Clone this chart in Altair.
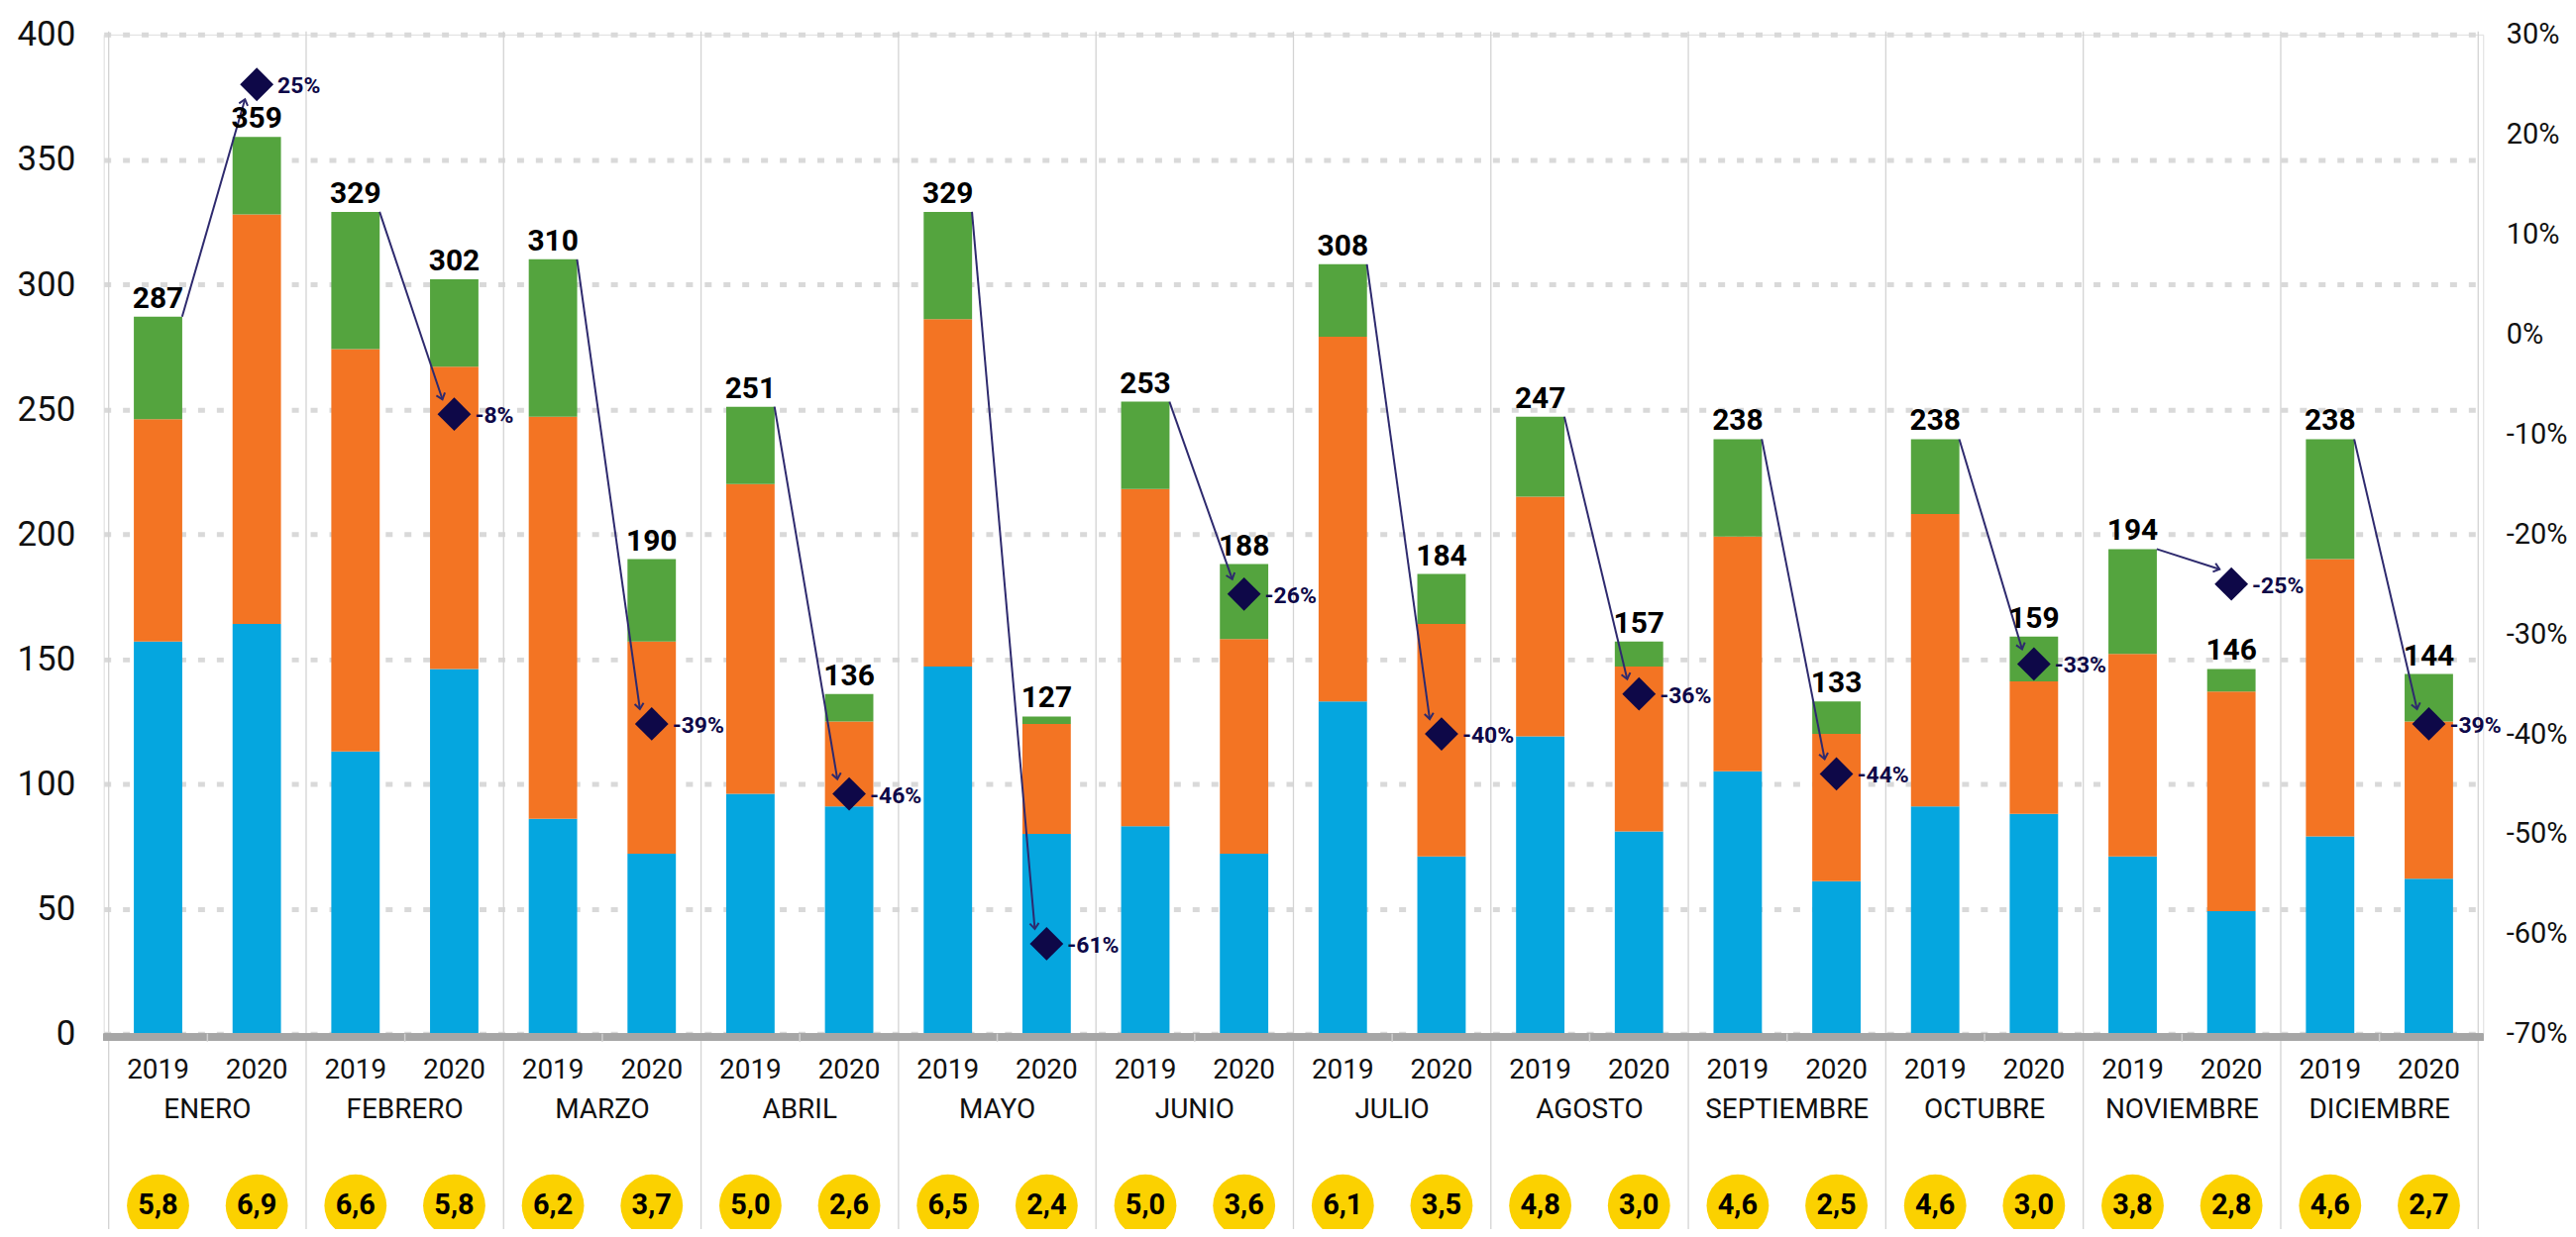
import math
import altair as alt
import pandas as pd

# ---------------- data ----------------
months = ["ENERO", "FEBRERO", "MARZO", "ABRIL", "MAYO", "JUNIO", "JULIO",
          "AGOSTO", "SEPTIEMBRE", "OCTUBRE", "NOVIEMBRE", "DICIEMBRE"]
years = ["2019", "2020"]

blue_2019 = [157, 113, 86, 96, 147, 83, 133, 119, 105, 91, 71, 79]
orange_2019 = [89, 161, 161, 124, 139, 135, 146, 96, 94, 117, 81, 111]
green_2019 = [41, 55, 63, 31, 43, 35, 29, 32, 39, 30, 42, 48]

blue_2020 = [164, 146, 72, 91, 80, 72, 71, 81, 61, 88, 49, 62]
orange_2020 = [164, 121, 85, 34, 44, 86, 93, 66, 59, 53, 88, 63]
green_2020 = [31, 35, 33, 11, 3, 30, 20, 10, 13, 18, 9, 19]

pct_change = [25, -8, -39, -46, -61, -26, -40, -36, -44, -33, -25, -39]

circle_2019 = [5.8, 6.6, 6.2, 5.0, 6.5, 5.0, 6.1, 4.8, 4.6, 4.6, 3.8, 4.6]
circle_2020 = [6.9, 5.8, 3.7, 2.6, 2.4, 3.6, 3.5, 3.0, 2.5, 3.0, 2.8, 2.7]

left_ticks = list(range(0, 401, 50))
right_ticks = list(range(-70, 31, 10))

# ---------------- layout / style ----------------
W, H = 2409, 1012
PX_X = W / 12.0
PX_Y = H / 400.0
BAR_W = 49
HALF = (BAR_W / 2) / PX_X
OFFS = {"2019": 0.25, "2020": 0.75}

BLUE, ORANGE, GREEN = "#05A6DF", "#F37423", "#54A43E"
NAVY = "#0E0848"
ARROW = "#2E2A6E"
YELLOW = "#FBD100"
FONT = "Roboto"

# ---------------- tables ----------------
seg_names = ["s1", "s2", "s3"]
bar_rows, tot_rows = [], []
for i, m in enumerate(months):
    for yr, segs, circ in [
        ("2019", (blue_2019[i], orange_2019[i], green_2019[i]), circle_2019[i]),
        ("2020", (blue_2020[i], orange_2020[i], green_2020[i]), circle_2020[i]),
    ]:
        pos = i + OFFS[yr]
        for k, v in enumerate(segs):
            bar_rows.append({"pos": pos, "seg": seg_names[k], "ord": k, "value": v})
        tot_rows.append({"pos": pos, "total": sum(segs), "year": yr,
                         "circ": f"{circ:.1f}".replace(".", ",")})
bars_df = pd.DataFrame(bar_rows)
tot_df = pd.DataFrame(tot_rows)

month_df = pd.DataFrame({"mid": [i + 0.5 for i in range(12)], "month": months})
sep_df = pd.DataFrame({"sx": list(range(13))})

arr_rows = []
for i in range(12):
    t19 = blue_2019[i] + orange_2019[i] + green_2019[i]
    xs, ys = i + OFFS["2019"] + HALF, t19
    xd = i + OFFS["2020"]
    yd = (pct_change[i] + 70) * 4.0          # right-scale value expressed in left units
    sign = 1 if (ys - yd) > 0 else -1
    xt = xd - 12 / PX_X
    yt = yd + sign * 15 / PX_Y
    vx = (xt - xs) * PX_X
    vy = (ys - yt) * PX_Y
    ang = math.degrees(math.atan2(vy, vx)) % 360
    arr_rows.append({"xs": xs, "ys": ys, "xt": xt, "yt": yt, "ang": ang,
                     "xd": xd, "pct": pct_change[i], "plab": f"{pct_change[i]}%"})
arr_df = pd.DataFrame(arr_rows)

xs_scale = alt.Scale(domain=[0, 12], nice=False, zero=False)
yl_scale = alt.Scale(domain=[0, 400], nice=False, zero=False)
yr_scale = alt.Scale(domain=[-70, 30], nice=False, zero=False)

# ---------------- layers on the left scale ----------------
bars = alt.Chart(bars_df).mark_bar(size=BAR_W).encode(
    x=alt.X("pos:Q", scale=xs_scale, axis=None),
    y=alt.Y("value:Q", stack="zero", scale=yl_scale,
            axis=alt.Axis(values=left_ticks, title=None, ticks=False, domain=False,
                          labelFontSize=35, labelFont=FONT, labelColor="#111111",
                          labelPadding=29, grid=True, gridDash=[7, 12],
                          gridColor="#D9D9D9", gridWidth=5)),
    color=alt.Color("seg:N", scale=alt.Scale(domain=seg_names,
                                             range=[BLUE, ORANGE, GREEN]), legend=None),
    order=alt.Order("ord:Q"),
)

baseline = alt.Chart(month_df).mark_rule(color="#A6A6A6", strokeWidth=7, yOffset=3.5).encode(
    x=alt.value(0), x2=alt.value(W), y=alt.datum(0, scale=yl_scale)
)

mid_ticks = alt.Chart(month_df).mark_rule(color="#CFCFCF", strokeWidth=1.5).encode(
    x=alt.X("mid:Q", scale=xs_scale), y=alt.value(H), y2=alt.value(H + 8)
)

separators = alt.Chart(sep_df).mark_rule(color="#D3D3D3", strokeWidth=1.3).encode(
    x=alt.X("sx:Q", scale=xs_scale), y=alt.value(-3), y2=alt.value(H + 260)
)

arrows = alt.Chart(arr_df).mark_rule(color=ARROW, strokeWidth=2).encode(
    x=alt.X("xs:Q", scale=xs_scale), x2="xt:Q",
    y=alt.Y("ys:Q", scale=yl_scale), y2="yt:Q",
)

heads = alt.Chart(arr_df).mark_point(
    shape="M-1,-0.8L0,0L-1,0.8", filled=False, stroke=ARROW, strokeWidth=2,
    size=130, opacity=1,
).encode(
    x=alt.X("xt:Q", scale=xs_scale), y=alt.Y("yt:Q", scale=yl_scale),
    angle=alt.Angle("ang:Q", scale=None),
)

totals = alt.Chart(tot_df).mark_text(
    font=FONT, fontSize=30, fontWeight="bold", color="#000000",
    baseline="alphabetic", dy=-9,
).encode(
    x=alt.X("pos:Q", scale=xs_scale), y=alt.Y("total:Q", scale=yl_scale),
    text="total:Q",
)

year_labels = alt.Chart(tot_df).mark_text(
    font=FONT, fontSize=28, color="#111111", baseline="middle",
).encode(
    x=alt.X("pos:Q", scale=xs_scale), y=alt.value(H + 37), text="year:N",
)

month_labels = alt.Chart(month_df).mark_text(
    font=FONT, fontSize=28, color="#111111", baseline="middle",
).encode(
    x=alt.X("mid:Q", scale=xs_scale), y=alt.value(H + 78), text="month:N",
)

circles = alt.Chart(tot_df).mark_point(
    shape="circle", filled=True, color=YELLOW, size=3969, opacity=1,
).encode(
    x=alt.X("pos:Q", scale=xs_scale), y=alt.value(H + 174),
)

circle_text = alt.Chart(tot_df).mark_text(
    font=FONT, fontSize=29, fontWeight="bold", color="#000000", baseline="middle",
).encode(
    x=alt.X("pos:Q", scale=xs_scale), y=alt.value(H + 174), text="circ:N",
)

left_layer = alt.layer(
    bars, separators, baseline, mid_ticks, arrows, heads, totals,
    year_labels, month_labels, circles, circle_text,
)

# ---------------- layers on the right (percent) scale ----------------
diamonds = alt.Chart(arr_df).mark_point(
    shape="diamond", filled=True, color=NAVY, size=1150, opacity=1,
).encode(
    x=alt.X("xd:Q", scale=xs_scale),
    y=alt.Y("pct:Q", scale=yr_scale,
            axis=alt.Axis(orient="right", values=right_ticks, title=None,
                          ticks=False, domain=False, grid=False,
                          labelExpr="datum.value + '%'", labelFontSize=29,
                          labelFont=FONT, labelColor="#111111", labelPadding=23)),
)

pct_labels = alt.Chart(arr_df).mark_text(
    font=FONT, fontSize=23, fontWeight="bold", color=NAVY, align="left",
    baseline="middle", dx=21, dy=2,
).encode(
    x=alt.X("xd:Q", scale=xs_scale), y=alt.Y("pct:Q", scale=yr_scale), text="plab:N",
)

right_layer = alt.layer(diamonds, pct_labels)

chart = alt.layer(left_layer, right_layer).resolve_scale(y="independent").properties(
    width=W, height=H,
    padding={"left": 97, "top": 25, "right": 86, "bottom": 196},
    autosize=alt.AutoSizeParams(type="none"),
).configure_view(stroke=None).configure(background="white")

chart.save("out.html", embed_options={"renderer": "svg", "actions": False})
